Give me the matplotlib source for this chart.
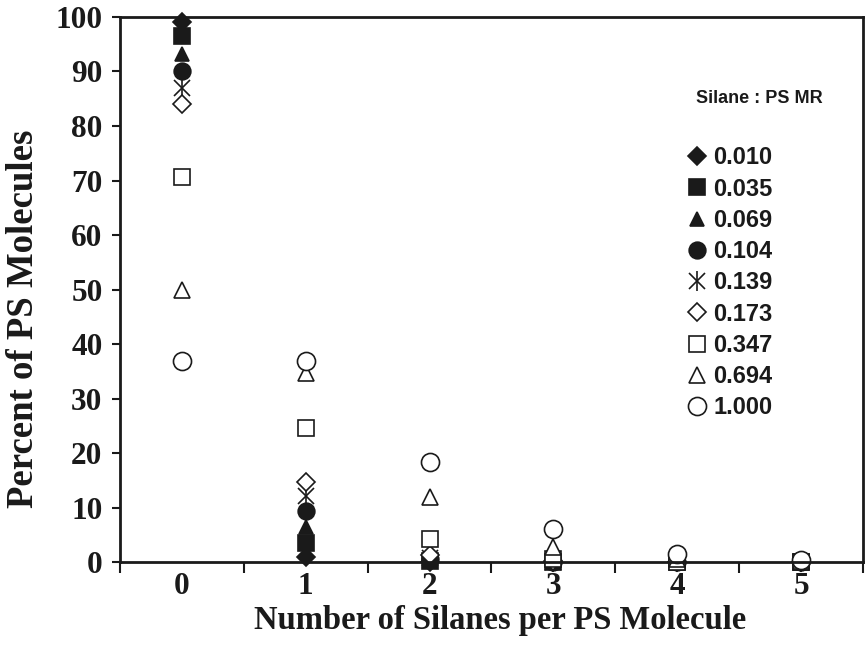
import numpy as np
import matplotlib.pyplot as plt

# Silane : PS molar ratios and their distribution of silanes per PS molecule
n_silanes = [0, 1, 2, 3, 4, 5]
ratio_labels = ['0.010', '0.035', '0.069', '0.104', '0.139', '0.173', '0.347', '0.694', '1.000']

mr_0010 = [99.0, 1.0, 0.0, 0.0, 0.0, 0.0]
mr_0035 = [96.6, 3.4, 0.1, 0.0, 0.0, 0.0]
mr_0069 = [93.3, 6.4, 0.2, 0.0, 0.0, 0.0]
mr_0104 = [90.1, 9.4, 0.5, 0.0, 0.0, 0.0]
mr_0139 = [87.0, 12.1, 0.8, 0.0, 0.0, 0.0]
mr_0173 = [84.1, 14.6, 1.3, 0.1, 0.0, 0.0]
mr_0347 = [70.7, 24.5, 4.3, 0.5, 0.0, 0.0]
mr_0694 = [50.0, 34.7, 12.0, 2.8, 0.5, 0.1]
mr_1000 = [36.8, 36.8, 18.4, 6.1, 1.5, 0.3]

series = [mr_0010, mr_0035, mr_0069, mr_0104, mr_0139, mr_0173, mr_0347, mr_0694, mr_1000]

# marker, size, filled ('*' means an x with a vertical bar)
styles = [('D', 9, True), ('s', 11, True), ('^', 10, True), ('o', 12, True),
          ('*', 12, True), ('D', 9, False), ('s', 12, False), ('^', 12, False), ('o', 13, False)]

ink = '#1a1a1a'
fig = plt.figure(figsize=(8.65, 6.64), dpi=100)
ax = fig.add_axes([0.1387, 0.1536, 0.8590, 0.8208])

handles = []
for vals, (m, ms, filled) in zip(series, styles):
    if m == '*':
        h1, = ax.plot(n_silanes, vals, linestyle='none', marker='x', ms=ms, mew=1.2, color=ink)
        h2, = ax.plot(n_silanes, vals, linestyle='none', marker='|', ms=ms + 2, mew=1.2, color=ink)
        for h in (h1, h2):
            h.set_clip_on(False)
        handles.append((h1, h2))
    else:
        h, = ax.plot(n_silanes, vals, linestyle='none', marker=m, ms=ms, mew=1.2,
                     mec=ink, mfc=ink if filled else 'white')
        h.set_clip_on(False)
        handles.append(h)

ax.set_xlim(-0.5, 5.5)
ax.set_ylim(0, 100)
ax.set_xticks(np.arange(-0.5, 6, 1))
ax.set_xticklabels([])
ax.set_xticks(n_silanes, minor=True)
ax.set_xticklabels([str(n) for n in n_silanes], minor=True)
ax.tick_params(axis='x', which='major', direction='out', length=7.7, width=1.5, color=ink)
ax.tick_params(axis='x', which='minor', length=0, pad=7)
ax.set_yticks(np.arange(0, 101, 10))
ax.tick_params(axis='y', direction='out', length=6, width=1.5, color=ink, pad=6.5)

for lbl in ax.get_xticklabels(minor=True) + ax.get_yticklabels():
    lbl.set_fontfamily('Liberation Serif')
    lbl.set_fontweight('bold')
    lbl.set_fontsize(22.5)
    lbl.set_color(ink)

for sp in ax.spines.values():
    sp.set_linewidth(2)
    sp.set_color(ink)

ax.set_xlabel('Number of Silanes per PS Molecule', fontfamily='Liberation Serif',
              fontweight='bold', fontsize=23.5, color=ink)
ax.xaxis.set_label_coords(0.511, -0.079)
ax.set_ylabel('Percent of PS Molecules', fontfamily='Liberation Serif',
              fontweight='bold', fontsize=26.5, color=ink)
ax.yaxis.set_label_coords(-0.106, 0.446)

ax.text(0.86, 0.851, 'Silane : PS MR', transform=ax.transAxes, ha='center', va='center',
        fontfamily='Liberation Sans', fontweight='bold', fontsize=13, color=ink)

leg = ax.legend(handles=handles, labels=ratio_labels, loc='upper left',
                bbox_to_anchor=(0.751, 0.78), frameon=False, handlelength=0.8,
                handletextpad=0.3, labelspacing=0.35, borderaxespad=0,
                prop={'family': 'Liberation Sans', 'weight': 'bold', 'size': 17})
for t in leg.get_texts():
    t.set_color(ink)

fig.savefig('out.png', dpi=100)
